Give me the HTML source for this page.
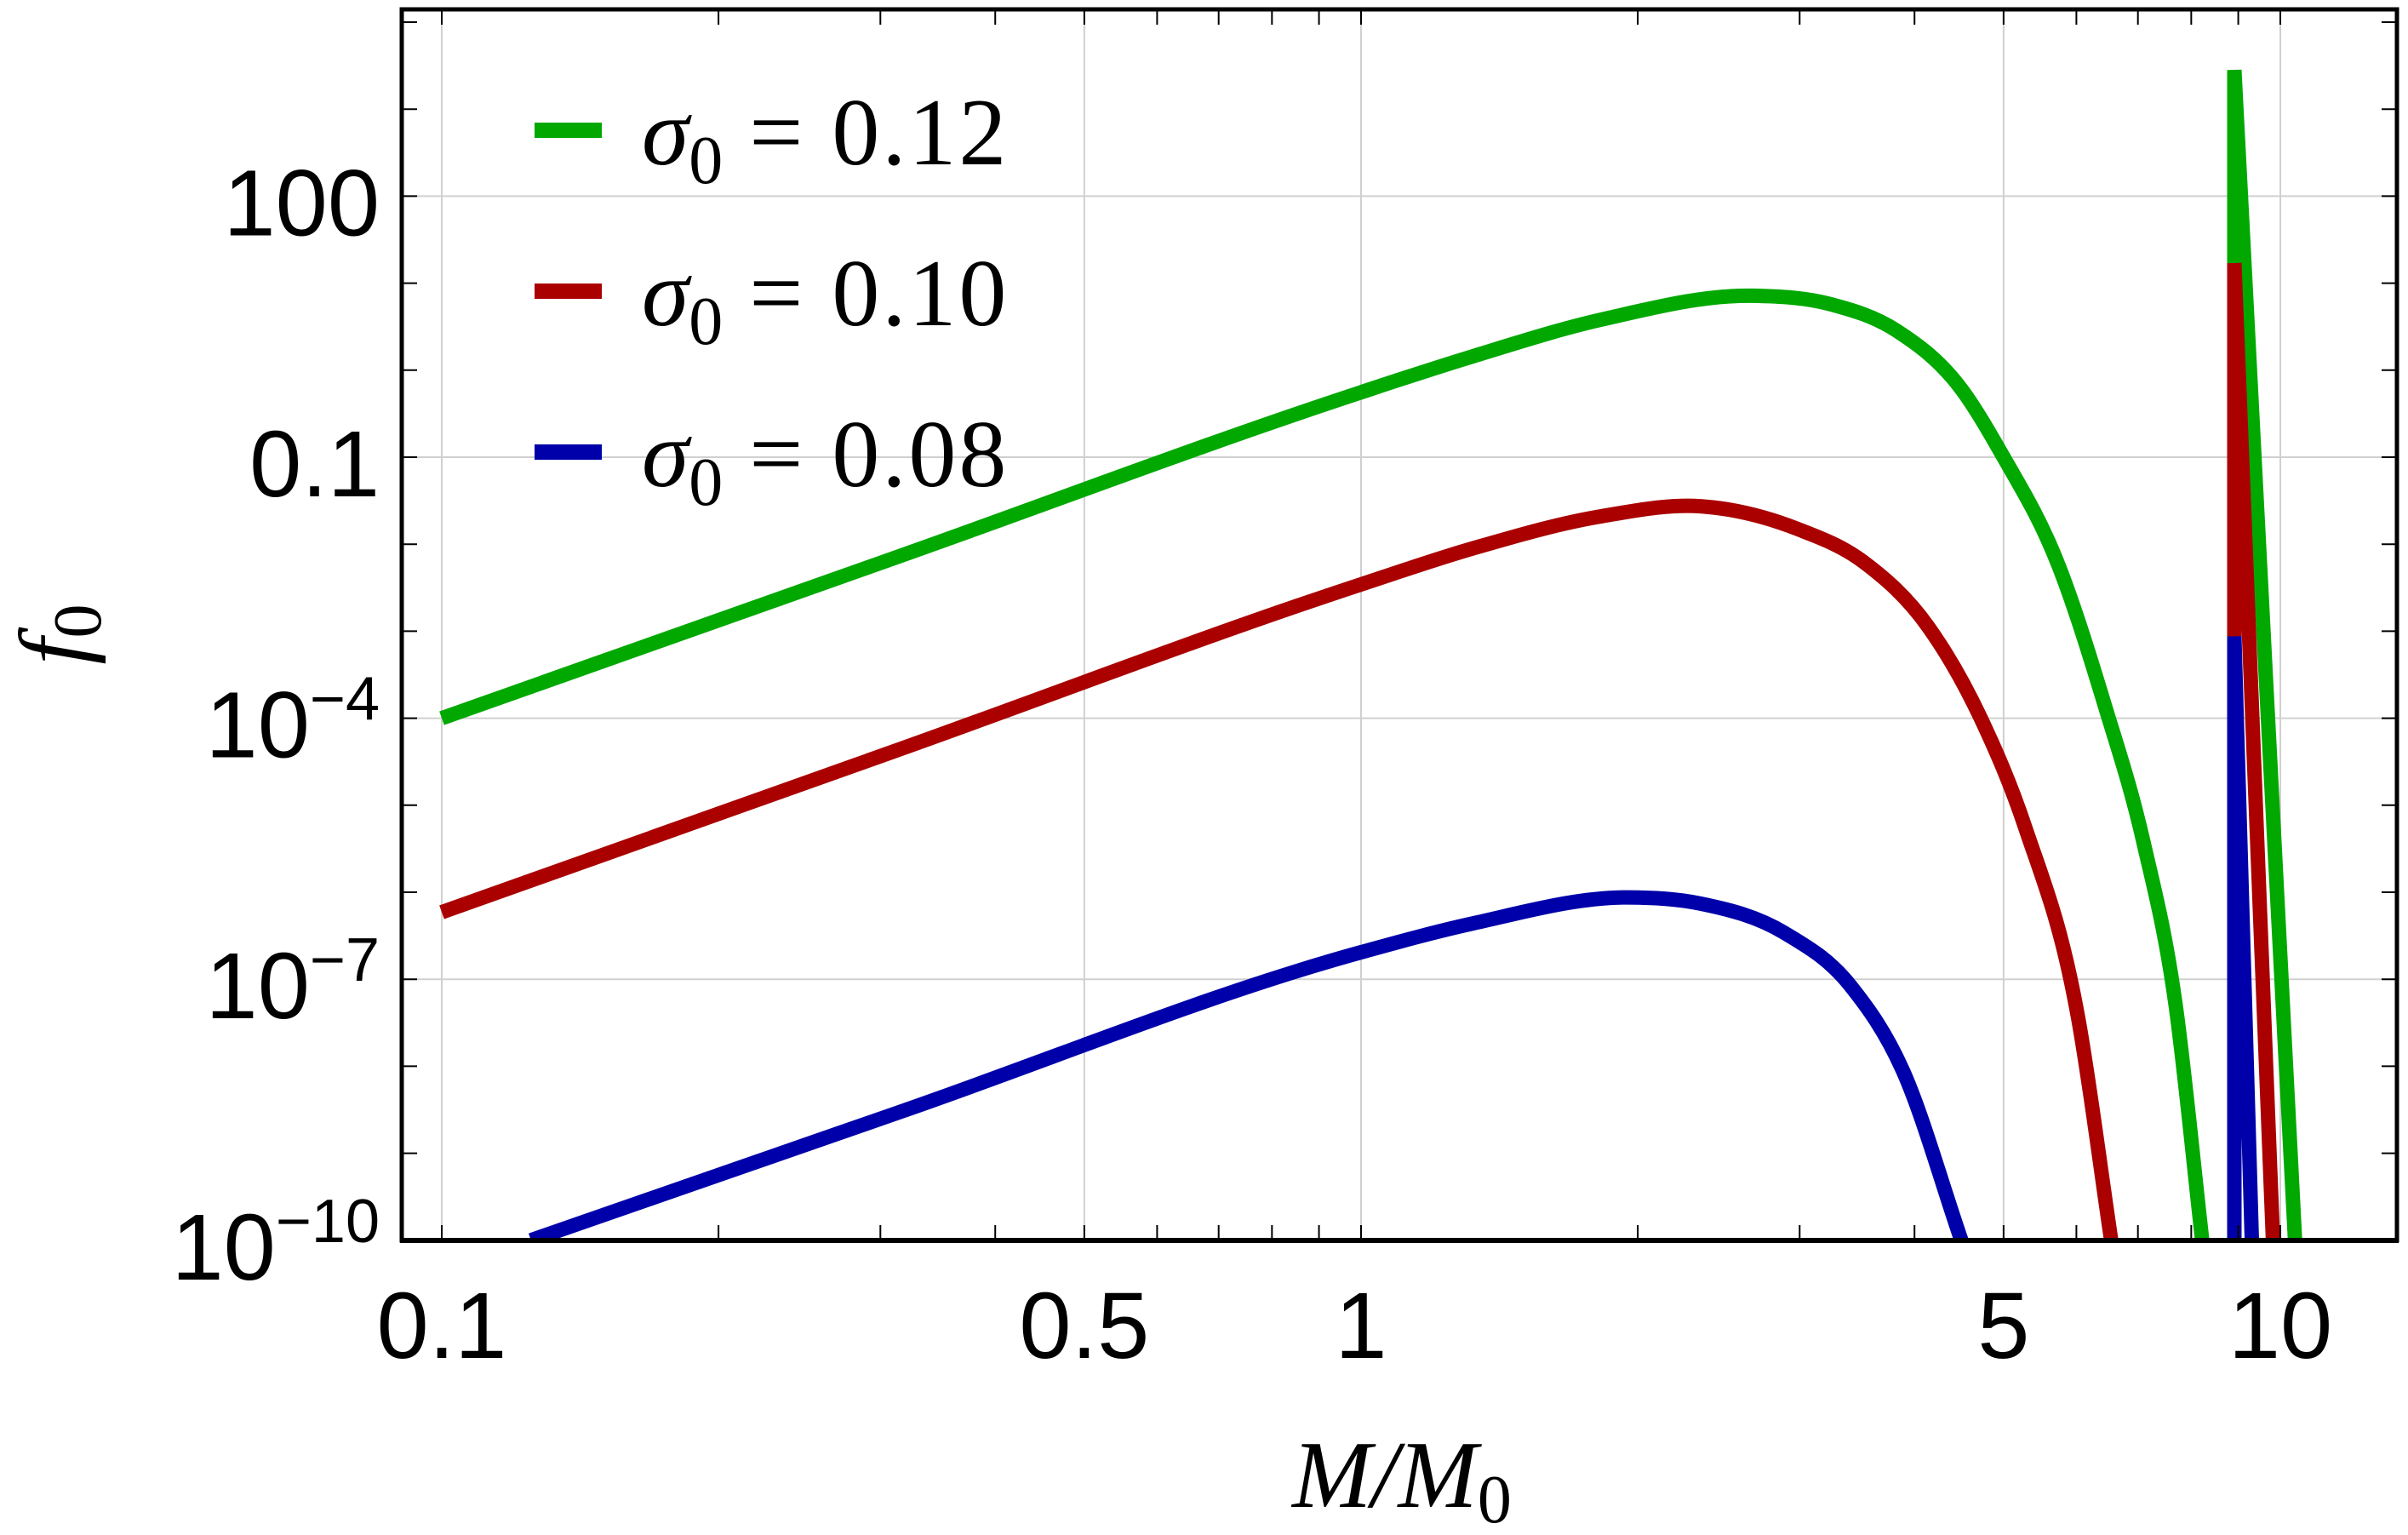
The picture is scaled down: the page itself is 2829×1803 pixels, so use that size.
<!DOCTYPE html>
<html><head><meta charset="utf-8"><style>
html,body{margin:0;padding:0;background:#fff;}
svg{display:block;}
</style></head><body>
<svg id="chart" width="2829" height="1803" viewBox="0 0 2829 1803" xmlns="http://www.w3.org/2000/svg">
<rect width="2829" height="1803" fill="#fff"/>
<g id="grid"></g>
<g id="curves"></g>
<g id="axes"></g>
<g id="legend"></g>
<text x="1647" y="1770" text-anchor="middle" font-family="Liberation Serif, serif" font-style="italic" font-size="112">M/M<tspan font-style="normal" font-size="80" dy="18">0</tspan></text>
<text transform="translate(100,745) rotate(-90)" text-anchor="middle" font-family="Liberation Serif, serif" font-style="italic" font-size="112">f<tspan font-style="normal" font-size="80" dy="18">0</tspan></text>
</svg>
<script>
// ---- data ----
const seriesNames = ["σ0 = 0.12", "σ0 = 0.10", "σ0 = 0.08"];
const seriesColors = ["#00a800", "#aa0000", "#0000aa"];
// log10(M/M0) and log10(f0) samples
const greenLogM = [-1, -0.5, 0, 0.121, 0.263, 0.426, 0.511, 0.582, 0.653, 0.697, 0.759, 0.809, 0.851, 0.886, 0.915];
const greenLogF = [-4, -2.13, -0.254, 0.158, 0.585, 0.855, 0.757, 0.458, -0.216, -0.965, -2.25, -3.85, -5.42, -7.29, -10];
const redLogM = [-1, -0.5, 0, 0.121, 0.263, 0.369, 0.475, 0.546, 0.617, 0.674, 0.723, 0.780, 0.816];
const redLogF = [-6.23, -4.35, -2.462, -2.05, -1.676, -1.564, -1.826, -2.2, -2.95, -3.997, -5.27, -7.44, -10];
const blueLogM = [-0.903, -0.5, 0, 0.121, 0.291, 0.369, 0.461, 0.532, 0.589, 0.653];
const blueLogF = [-10, -8.52, -6.69, -6.36, -6.06, -6.13, -6.47, -7.07, -8.04, -10];
// spikes near M/M0 ~ 9
const spikeLogM = [0.950, 0.950, 0.950];
const spikeTopLogF = [3.45, 1.23, -3.06];
const spikeEndLogM = [1.016, 0.992, 0.969];
const xTickValues = [0.1, 0.5, 1, 5, 10];
const xTickLabels = ["0.1", "0.5", "1", "5", "10"];
const yTickExps = [2, -1, -4, -7, -10];
const yTickLabels = ["100", "0.1", "10", "10", "10"];
const yTickSups = ["", "", "−4", "−7", "−10"];

// ---- axes ----
const L = 472, R = 2816, T = 11, B = 1457;
const X0 = 519, XD = 1080;
const Y0 = 537, YD = 102.2;
const xs = lg => X0 + (lg + 1) * XD;
const ys = lg => Y0 - (lg + 1) * YD;
const NS = "http://www.w3.org/2000/svg";
function mk(tag, parent, attrs) {
  const e = document.createElementNS(NS, tag);
  for (const k in attrs) e.setAttribute(k, attrs[k]);
  parent.appendChild(e);
  return e;
}
const grid = document.getElementById('grid');
const axes = document.getElementById('axes');
const curves = document.getElementById('curves');
const legend = document.getElementById('legend');

xTickValues.forEach(v => {
  const x = xs(Math.log10(v));
  const l = mk('line', grid, {x1: x, x2: x, y1: T, y2: B, stroke: '#d0d0d0', 'stroke-width': 2});
  
  
});
yTickExps.forEach(e => {
  const y = ys(e);
  const l = mk('line', grid, {x1: L, x2: R, y1: y, y2: y, stroke: '#d0d0d0', 'stroke-width': 2});
  
  
});

// smooth curves: nonuniform cubic Hermite in pixel space
function pathFrom(lm, lf) {
  const X = lm.map(xs), Y = lf.map(ys), n = X.length;
  const s = [];
  for (let i = 0; i < n - 1; i++) s.push((Y[i + 1] - Y[i]) / (X[i + 1] - X[i]));
  const m = [];
  for (let i = 0; i < n; i++) {
    if (i === 0) m.push(s[0]);
    else if (i === n - 1) m.push(s[n - 2]);
    else {
      const h0 = X[i] - X[i - 1], h1 = X[i + 1] - X[i];
      m.push((h1 * s[i - 1] + h0 * s[i]) / (h0 + h1));
    }
  }
  let d = 'M' + X[0].toFixed(1) + ' ' + Y[0].toFixed(1);
  for (let i = 0; i < n - 1; i++) {
    const h = X[i + 1] - X[i];
    d += ' C' + (X[i] + h / 3).toFixed(1) + ' ' + (Y[i] + m[i] * h / 3).toFixed(1) + ' ' +
      (X[i + 1] - h / 3).toFixed(1) + ' ' + (Y[i + 1] - m[i + 1] * h / 3).toFixed(1) + ' ' +
      X[i + 1].toFixed(1) + ' ' + Y[i + 1].toFixed(1);
  }
  return d;
}
const seriesM = [greenLogM, redLogM, blueLogM];
const seriesF = [greenLogF, redLogF, blueLogF];
const curveNames = ['curve-sigma-0-12', 'curve-sigma-0-10', 'curve-sigma-0-08'];
seriesM.forEach((lm, i) => {
  const p = mk('path', curves, {d: pathFrom(lm, seriesF[i]), fill: 'none', stroke: seriesColors[i], 'stroke-width': 17, 'stroke-linejoin': 'round'});
  
  
});
seriesM.forEach((lm, i) => {
  const d = 'M' + xs(spikeLogM[i]) + ' ' + (B + 20) + ' L' + xs(spikeLogM[i]) + ' ' + ys(spikeTopLogF[i]) + ' L' + xs(spikeEndLogM[i]) + ' ' + ys(-10);
  const p = mk('path', curves, {d: d, fill: 'none', stroke: seriesColors[i], 'stroke-width': 17, 'stroke-linejoin': 'bevel'});
  
  
});

const frame = mk('rect', axes, {x: L, y: T, width: R - L, height: B - T, fill: 'none', stroke: '#000', 'stroke-width': 5});


const mask = mk('rect', axes, {x: 0, y: B + 3, width: 2829, height: 30, fill: '#fff'});


const bl = mk('line', axes, {x1: L - 2, x2: R + 2, y1: B, y2: B, stroke: '#000', 'stroke-width': 6});



for (let d = -2; d <= 1; d++) {
  for (let k = 1; k <= 9; k++) {
    const v = k * Math.pow(10, d);
    const x = xs(Math.log10(v));
    if (x < L || x > R) continue;
    const t1 = mk('line', axes, {x1: x, x2: x, y1: B, y2: B - 18, stroke: '#000', 'stroke-width': 2});
    
    
    const t2 = mk('line', axes, {x1: x, x2: x, y1: T, y2: T + 18, stroke: '#000', 'stroke-width': 2});
    
    
  }
}
for (let e = -10; e <= 4; e++) {
  const y = ys(e);
  if (y < T || y > B) continue;
  const t1 = mk('line', axes, {x1: L, x2: L + 18, y1: y, y2: y, stroke: '#000', 'stroke-width': 2});
  
  
  const t2 = mk('line', axes, {x1: R - 18, x2: R, y1: y, y2: y, stroke: '#000', 'stroke-width': 2});
  
  
}
xTickValues.forEach((v, i) => {
  const t = mk('text', axes, {x: xs(Math.log10(v)), y: 1595, 'text-anchor': 'middle', 'font-family': 'Liberation Sans, sans-serif', 'font-size': 110});
  t.textContent = xTickLabels[i];
  
  
});
yTickExps.forEach((e, i) => {
  const t = mk('text', axes, {x: 446, y: ys(e) + 46, 'text-anchor': 'end', 'font-family': 'Liberation Sans, sans-serif', 'font-size': 110});
  t.textContent = yTickLabels[i];
  if (yTickSups[i]) {
    const s = mk('tspan', t, {'font-size': 72, dy: -44});
    s.textContent = yTickSups[i];
  }
  
  
});

const legY = [153, 342, 531];
const legVals = ["0.12", "0.10", "0.08"];
seriesNames.forEach((n, i) => {
  const g = mk('g', legend, {});
  
  
  const l = mk('line', g, {x1: 628, x2: 707, y1: legY[i], y2: legY[i], stroke: seriesColors[i], 'stroke-width': 18});
  
  
  const t = mk('text', g, {x: 754, y: legY[i] + 40, 'font-family': 'Liberation Serif, serif', 'font-size': 112});
  
  
  const s1 = mk('tspan', t, {'font-style': 'italic'}); s1.textContent = 'σ';
  const s2 = mk('tspan', t, {'font-size': 80, dy: 22}); s2.textContent = '0';
  const s3 = mk('tspan', t, {dy: -22, 'letter-spacing': 3}); s3.textContent = ' = ' + legVals[i];
});
</script>
</body></html>
